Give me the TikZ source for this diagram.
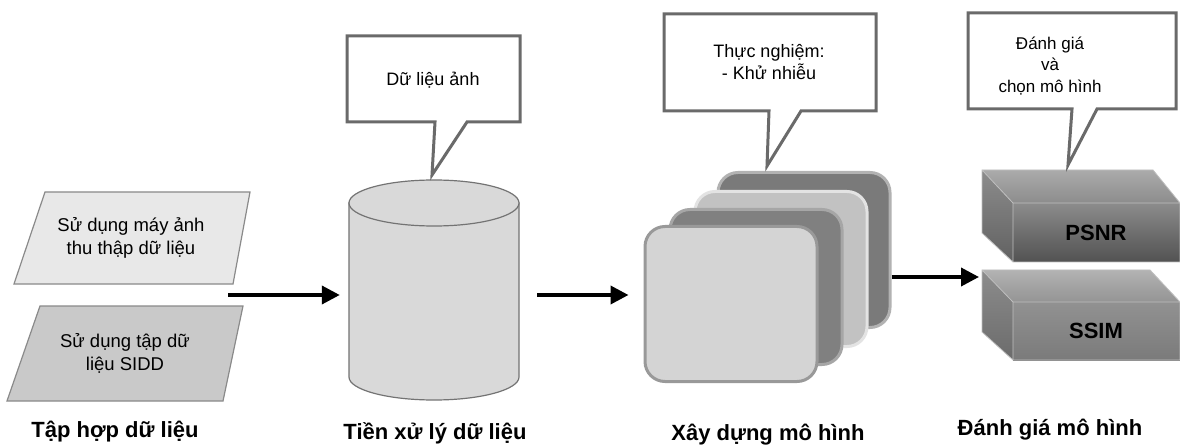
\documentclass[tikz,border=0pt]{standalone}
\usepackage{fontspec}
\setmainfont{Liberation Sans}
\usetikzlibrary{arrows.meta,calc}
\definecolor{edgegray}{HTML}{8A8A8A}
\definecolor{callgray}{HTML}{6A6A6A}
\tikzset{
  body/.style={font=\fontsize{18.5}{23}\selectfont, align=center},
  calltext/.style={font=\fontsize{18}{22}\selectfont, align=center},
  caption/.style={font=\fontsize{22}{24}\selectfont\bfseries},
  callout/.style={draw=callgray, line width=3pt, fill=white, line join=miter},
  flow/.style={line width=3.8pt, -{Triangle[length=18pt,width=18pt]}},
  card/.style={rounded corners=20pt, line width=3pt, minimum width=172pt, minimum height=155pt, inner sep=0pt},
  metric/.style={font=\fontsize{22}{24}\selectfont\bfseries},
}
\begin{document}
\begin{tikzpicture}[x=1pt,y=-1pt]
\useasboundingbox (0,0) rectangle (1180,446);
\fill[white] (0,0) rectangle (1180,446);

% ---- data collection: two parallelograms
\filldraw[fill=black!9, draw=edgegray, line width=1.2pt]
  (45,192) -- (250,192) -- (233,284) -- (14,284) -- cycle;
\node[body] (cam) at (131,238) {Sử dụng máy ảnh\\thu thập dữ liệu};
\filldraw[fill=black!21, draw=edgegray, line width=1.2pt]
  (40,306) -- (243,306) -- (223,401) -- (7,401) -- cycle;
\node[body] (sidd) at (125,353) {Sử dụng tập dữ\\liệu SIDD};
\node[caption] (cap1) at (115,432) {Tập hợp dữ liệu};
\coordinate (dsout) at (228,295);

% ---- preprocessing: cylinder
\node[minimum width=170pt, minimum height=222pt, inner sep=0pt] (cyl) at (434,290) {};
\filldraw[fill=black!15, draw=black!55, line width=1.2pt]
  (349,203) -- (349,377) arc[start angle=180, end angle=0, x radius=85, y radius=23] -- (519,203) -- cycle;
\filldraw[fill=black!15, draw=black!55, line width=1.2pt]
  (434,203) ellipse[x radius=85, y radius=23];
\draw[callout] (347,36) -- (520,36) -- (520,122) -- (467,122) -- (432,175) -- (435,122) -- (347,122) -- cycle;
\node[calltext] (c1) at (433,80) {Dữ liệu ảnh};
\node[caption] (cap2) at (435,433) {Tiền xử lý dữ liệu};

% ---- model building: stacked cards
\node[card, fill=black!52, draw=black!30] (m4) at (804,250) {};
\node[card, fill=black!24, draw=black!11] (m3) at (781,269) {};
\node[card, fill=black!50, draw=black!35] (m2) at (756,287) {};
\node[card, fill=black!17, draw=black!40] (m1) at (731,304) {};
\draw[callout] (664,14) -- (876,14) -- (876,111) -- (801,111) -- (767,166) -- (769,111) -- (664,111) -- cycle;
\node[calltext] (c2) at (769,62) {Thực nghiệm:\\- Khử nhiễu};
\node[caption] (cap3) at (768,435) {Xây dựng mô hình};

% ---- evaluation: two metric blocks
% PSNR block
\shade[top color=black!33, bottom color=black!45] (982,170) -- (1153,170) -- (1180,203) -- (1013,203) -- cycle;
\shade[top color=black!45, bottom color=black!62] (982,170) -- (1013,203) -- (1013,262) -- (982,233) -- cycle;
\shade[top color=black!45, bottom color=black!68] (1013,203) rectangle (1180,262);
\draw[black!25, line width=0.8pt] (982,170) -- (1153,170) -- (1180,203) -- (1180,262) -- (1013,262) -- (982,233) -- cycle
  (982,170) -- (1013,203) -- (1180,203) (1013,203) -- (1013,262);
\node[metric] (psnr) at (1096,233) {PSNR};
% SSIM block
\shade[top color=black!30, bottom color=black!42] (982,270) -- (1150,270) -- (1180,302) -- (1013,302) -- cycle;
\shade[top color=black!45, bottom color=black!58] (982,270) -- (1013,302) -- (1013,360) -- (982,332) -- cycle;
\shade[top color=black!43, bottom color=black!52] (1013,302) rectangle (1180,360);
\draw[black!25, line width=0.8pt] (982,270) -- (1150,270) -- (1180,302) -- (1180,360) -- (1013,360) -- (982,332) -- cycle
  (982,270) -- (1013,302) -- (1180,302) (1013,302) -- (1013,360);
\node[metric] (ssim) at (1096,331) {SSIM};
\coordinate (ssimin) at (979,277);
\draw[callout] (968,13) -- (1176,13) -- (1176,109) -- (1097,109) -- (1068,165) -- (1072,109) -- (968,109) -- cycle;
\node[calltext, font=\fontsize{17}{21.5}\selectfont] (c3) at (1050,66) {Đánh giá\\và\\chọn mô hình};
\node[caption] (cap4) at (1050,430) {Đánh giá mô hình};

% ---- flow arrows
\draw[flow, shorten >=9pt] (dsout) -- (cyl.west |- dsout);
\draw[flow, shorten <=18pt, shorten >=15pt] (cyl.east |- dsout) -- (m1.west |- dsout);
\draw[flow] (m4.east |- ssimin) -- (ssimin);
\end{tikzpicture}
\end{document}
